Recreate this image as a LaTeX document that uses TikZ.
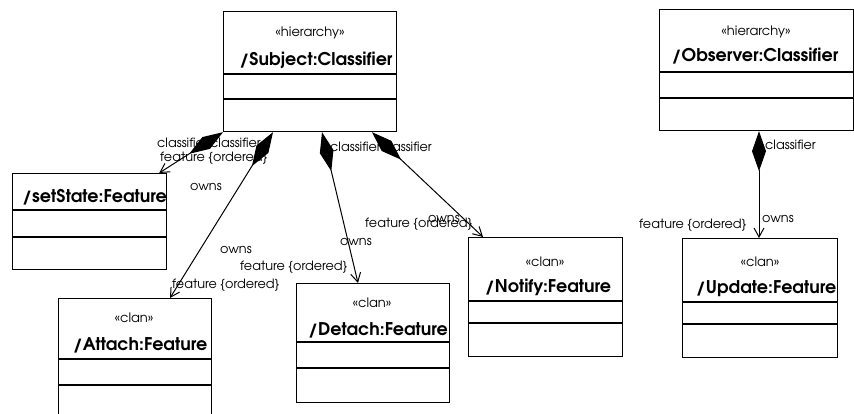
\documentclass[tikz,border=0pt]{standalone}
\usepackage{fontspec}
\setmainfont{texgyreadventor}[Extension=.otf, UprightFont=*-regular, BoldFont=*-bold]
\usetikzlibrary{arrows.meta}
\begin{document}
\begin{tikzpicture}[x=1pt,y=-1pt,
  umlbox/.style={draw, line width=1.2pt, rectangle, inner sep=0pt, anchor=north west},
  sep/.style={line width=1.2pt},
  stereo/.style={font=\fontsize{13}{15}\selectfont, inner sep=0pt},
  cname/.style={font=\fontsize{17.5}{20}\selectfont\bfseries, inner sep=0pt},
  lbl/.style={font=\fontsize{12.8}{15}\selectfont, inner sep=0pt, anchor=west},
  comp/.style={draw, line width=1pt, {Diamond[length=40pt,width=14pt]}-{Straight Barb[length=9pt,width=10pt]}}]
\useasboundingbox (0,0) rectangle (854,414);
\clip (0,0) rectangle (854,414);
% boxes
\node[umlbox, minimum width=173pt, minimum height=120pt] (subj) at (223,11) {};
\node[umlbox, minimum width=194pt, minimum height=121pt] (obs) at (659,9) {};
\node[umlbox, minimum width=154pt, minimum height=96pt] (setstate) at (12,173) {};
\node[umlbox, minimum width=153pt, minimum height=130pt] (attach) at (58,298) {};
\node[umlbox, minimum width=153pt, minimum height=119pt] (detach) at (296,283) {};
\node[umlbox, minimum width=154pt, minimum height=119pt] (notify) at (468,237) {};
\node[umlbox, minimum width=155pt, minimum height=119pt] (update) at (682,238) {};
% separators
\draw[sep] (subj.west |- 0,74) -- (subj.east |- 0,74);
\draw[sep] (subj.west |- 0,99) -- (subj.east |- 0,99);
\draw[sep] (obs.west |- 0,72) -- (obs.east |- 0,72);
\draw[sep] (obs.west |- 0,98) -- (obs.east |- 0,98);
\draw[sep] (setstate.west |- 0,210) -- (setstate.east |- 0,210);
\draw[sep] (setstate.west |- 0,237) -- (setstate.east |- 0,237);
\draw[sep] (attach.west |- 0,359) -- (attach.east |- 0,359);
\draw[sep] (attach.west |- 0,385) -- (attach.east |- 0,385);
\draw[sep] (detach.west |- 0,342) -- (detach.east |- 0,342);
\draw[sep] (detach.west |- 0,368) -- (detach.east |- 0,368);
\draw[sep] (notify.west |- 0,301) -- (notify.east |- 0,301);
\draw[sep] (notify.west |- 0,323) -- (notify.east |- 0,323);
\draw[sep] (update.west |- 0,302) -- (update.east |- 0,302);
\draw[sep] (update.west |- 0,324) -- (update.east |- 0,324);
% texts
\node[stereo] (subjst) at (310,33) {«hierarchy»};
\node[cname] (subjn) at (316,60) {/Subject:Classifier};
\node[stereo] (obsst) at (756,32) {«hierarchy»};
\node[cname] (obsn) at (755,56) {/Observer:Classifier};
\node[cname, anchor=west] (setn) at (22,197) {/setState:Feature};
\node[stereo] (attst) at (134,318) {«clan»};
\node[cname] (attn) at (140,345) {/Attach:Feature};
\node[stereo] (detst) at (372,303) {«clan»};
\node[cname] (detn) at (378,330) {/Detach:Feature};
\node[stereo] (notst) at (545,262) {«clan»};
\node[cname] (notn) at (548,287) {/Notify:Feature};
\node[stereo] (updst) at (760,262) {«clan»};
\node[cname] (updn) at (766,289) {/Update:Feature};
% connectors
\draw[comp] (subj.south west) -- ([xshift=-8pt]setstate.north east);
\draw[comp] ([xshift=50pt]subj.south west) -- ([xshift=112pt]attach.north west);
\draw[comp] ([xshift=99pt]subj.south west) -- ([xshift=62pt]detach.north west);
\draw[comp] ([xshift=149pt]subj.south west) -- ([xshift=15pt]notify.north west);
\draw[comp] ([xshift=100pt]obs.south west) -- ([xshift=77pt]update.north west);
% labels
\node[lbl] (c1) at (157,143) {classifier};
\node[lbl] (c2) at (210,143) {classifier};
\node[lbl] (f1) at (160,158) {feature \{ordered\}};
\node[lbl] (o1) at (190,187) {owns};
\node[lbl] (o2) at (220,250) {owns};
\node[lbl] (f3) at (240,267) {feature \{ordered\}};
\node[lbl] (f2) at (172,285) {feature \{ordered\}};
\node[lbl] (o3) at (340,242) {owns};
\node[lbl] (c3) at (330,147) {classifier};
\node[lbl] (c4) at (381,147) {classifier};
\node[lbl] (f4) at (365,224) {feature \{ordered\}};
\node[lbl] (o4) at (428,219) {owns};
\node[lbl] (c5) at (765,145) {classifier};
\node[lbl] (f5) at (639,225) {feature \{ordered\}};
\node[lbl] (o5) at (762,219) {owns};
\end{tikzpicture}
\end{document}
